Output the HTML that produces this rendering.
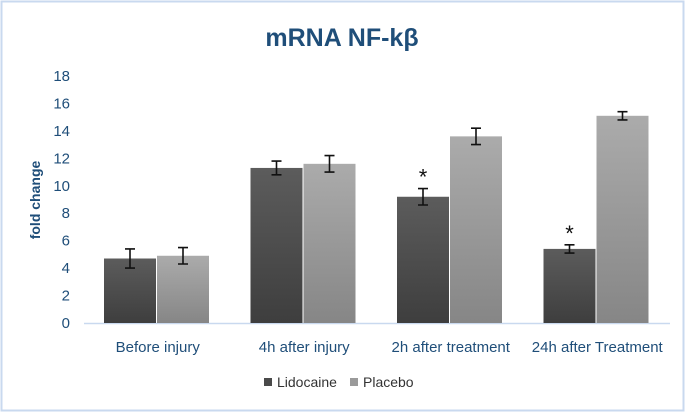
<!DOCTYPE html>
<html><head><meta charset="utf-8"><style>
body{margin:0;background:#fff;font-family:"Liberation Sans",sans-serif}
svg{display:block}
</style></head><body>
<svg width="685" height="412">
<defs>
<linearGradient id="gL" x1="0" y1="0" x2="0" y2="1"><stop offset="0" stop-color="#5c5c5c"/><stop offset="1" stop-color="#3e3e3e"/></linearGradient>
<linearGradient id="gP" x1="0" y1="0" x2="0" y2="1"><stop offset="0" stop-color="#ababab"/><stop offset="1" stop-color="#868686"/></linearGradient>
</defs>
<rect x="1.5" y="1.5" width="682" height="409" fill="#fff" stroke="#c9d9ef" stroke-width="2"/>
<text x="342" y="46" text-anchor="middle" font-size="25" font-weight="bold" fill="#1f4e79">mRNA NF-kβ</text>
<text transform="translate(40,200) rotate(-90)" text-anchor="middle" font-size="14" font-weight="bold" fill="#1f4e79">fold change</text>
<g id="plot"></g>
<g>
<rect x="264" y="378" width="8" height="8" fill="#4a4a4a"/>
<text x="277" y="387" font-size="14" fill="#333">Lidocaine</text>
<rect x="350" y="378" width="8" height="8" fill="#9a9a9a"/>
<text x="363" y="387" font-size="14" fill="#333">Placebo</text>
</g>
</svg>
<script>
const categories=["Before injury","4h after injury","2h after treatment","24h after Treatment"];
const lidocaine=[4.7,11.3,9.2,5.4];
const placebo=[4.9,11.6,13.6,15.1];
const lidoErr=[0.7,0.5,0.6,0.3];
const placeboErr=[0.6,0.6,0.6,0.3];
const significant=[false,false,true,true];
const yTicks=[0,2,4,6,8,10,12,14,16,18];
const NS="http://www.w3.org/2000/svg";
const g=document.getElementById('plot');
const x0=84,x1=670,yB=323,yT=76,yMax=18;
const y=v=>yB-(yB-yT)*v/yMax;
const gw=(x1-x0)/categories.length;
function mk(t,a){const e=document.createElementNS(NS,t);for(const k in a)e.setAttribute(k,a[k]);g.appendChild(e);return e;}
yTicks.forEach(v=>{const t=mk('text',{x:70,y:y(v)+5,'text-anchor':'end','font-size':15,fill:'#1f4e79'});t.textContent=v;

});
const ax=mk('line',{x1:x0,x2:x1,y1:yB+0.5,y2:yB+0.5,stroke:'#c9d9ef','stroke-width':1.5});


categories.forEach((c,i)=>{
 const gx=x0+gw*i, bw=52;
 [[lidocaine,lidoErr,'url(#gL)',20,'lidocaine'],[placebo,placeboErr,'url(#gP)',73,'placebo']].forEach(([vals,errs,fill,off,nm])=>{
  const bx=gx+off,v=vals[i];
  const r=mk('rect',{x:bx,y:y(v),width:bw,height:yB-y(v),fill:fill});
  
  
  const cx=bx+bw/2,hi=y(v+errs[i]),lo=y(v-errs[i]);
  const eb=mk('path',{d:`M${cx},${hi}V${lo}M${cx-5},${hi}H${cx+5}M${cx-5},${lo}H${cx+5}`,stroke:'#111','stroke-width':1.6,fill:'none'});
  
  
  if(nm==='lidocaine'&&significant[i]){
   const s=mk('text',{x:cx,y:hi-4,'text-anchor':'middle','font-size':22,fill:'#111'});s.textContent='*';
   
   
  }
 });
 const t=mk('text',{x:gx+gw/2+0.5,y:352,'text-anchor':'middle','font-size':15,fill:'#1f4e79'});t.textContent=c;
 
 
});
</script>
</body></html>
